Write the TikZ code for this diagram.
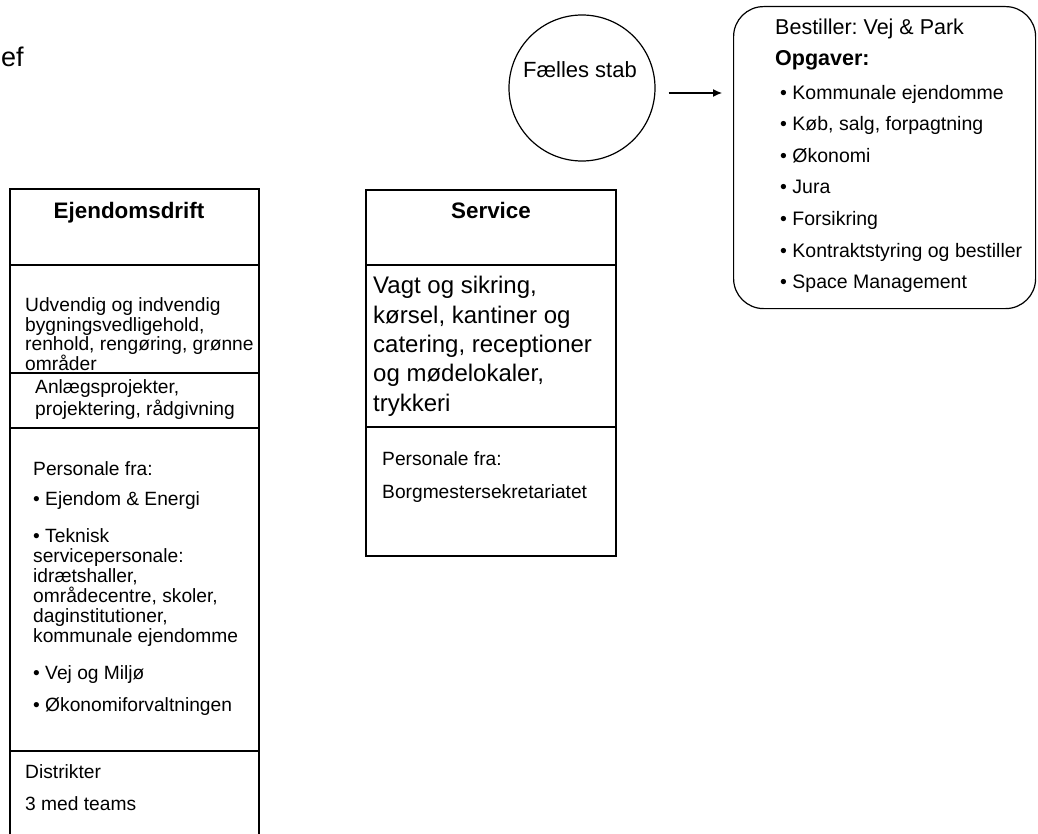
\documentclass[tikz,border=0pt]{standalone}
\usepackage{fontspec}
\setmainfont{Liberation Sans}
\usepackage{tikz}
\usetikzlibrary{shapes.geometric, arrows.meta, positioning}

\begin{document}
\frenchspacing
\begin{tikzpicture}[
    x=1pt, y=1pt,
    node distance=0pt,
    part/.style={rectangle, draw, line width=1.2pt, outer sep=0pt, inner sep=0pt, minimum width=249pt},
    srvpart/.style={part, minimum width=250pt},
    head/.style={anchor=base, inner sep=0pt, font=\fontsize{22.4}{26}\selectfont\bfseries},
    body/.style={anchor=base west, align=left, inner sep=0pt, font=\fontsize{19.2}{20}\selectfont},
    big/.style={body, font=\fontsize{24}{29.3}\selectfont},
    order/.style={body, font=\fontsize{19.5}{31.6}\selectfont},
    arrow/.style={-{Latex[length=9pt, width=8pt]}, line width=1.2pt}
]
    \clip (0,0) rectangle (1038,-834);

    \node[body, font=\fontsize{27}{30}\selectfont] (chef) at (1,-67) {ef};

    % Ejendomsdrift (text nodes sit on their last baseline)
    \node[part, minimum height=76pt, anchor=north west] (ejhead) at (10,-189) {};
    \node[part, minimum height=108pt, below=of ejhead] (ejtask) {};
    \node[part, minimum height=55pt, below=of ejtask] (ejproj) {};
    \node[part, minimum height=323pt, below=of ejproj] (ejstaff) {};
    \node[part, minimum height=110pt, below=of ejstaff] (ejdist) {};

    \node[head] (ejtitle) at (129,-219) {Ejendomsdrift};
    \node[body, font=\fontsize{19.2}{19.5}\selectfont] (ejtasktxt) at (25,-370)
        {Udvendig og indvendig\\bygningsvedligehold,\\renhold, rengøring, grønne\\områder};
    \node[body, font=\fontsize{19.2}{22}\selectfont] (ejprojtxt) at (35,-415)
        {Anlægsprojekter,\\projektering, rådgivning};
    \node[body] (ejstafftxt) at (33,-711)
        {Personale fra:\\[10pt]
         \textbullet\ Ejendom \& Energi\\[17pt]
         \textbullet\ Teknisk\\servicepersonale:\\idrætshaller,\\områdecentre, skoler,\\daginstitutioner,\\kommunale ejendomme\\[17pt]
         \textbullet\ Vej og Miljø\\[12pt]
         \textbullet\ Økonomiforvaltningen};
    \node[body] (ejdisttxt) at (25,-810) {Distrikter\\[12pt]3 med teams};

    % Service
    \node[srvpart, minimum height=75pt, anchor=north west] (srvhead) at (366,-190) {};
    \node[srvpart, minimum height=162pt, below=of srvhead] (srvtask) {};
    \node[srvpart, minimum height=129pt, below=of srvtask] (srvstaff) {};

    \node[head] (srvtitle) at (491,-219) {Service};
    \node[big] (srvtasktxt) at (373,-411)
        {Vagt og sikring,\\kørsel, kantiner og\\catering, receptioner\\og mødelokaler,\\trykkeri};
    \node[body] (srvstafftxt) at (382,-498) {Personale fra:\\[13pt]Borgmestersekretariatet};

    % Fælles stab og bestiller
    \node[circle, draw, line width=1.2pt, minimum size=146pt] (stab) at (582,-88) {};
    \node[head, font=\fontsize{22}{26}\selectfont] (stabtxt) at (580,-78) {Fælles stab};

    \node[draw, line width=1.2pt, rounded corners=30pt, minimum width=302pt, minimum height=302pt,
          anchor=north west] (orderbox) at (733,-6) {};
    \node[body, font=\fontsize{21.5}{31}\selectfont] (ordertitle) at (775,-66)
        {Bestiller: Vej \& Park\\{\bfseries Opgaver:}};
    \node[order] (ordertasks) at (780,-288.6)
        {\textbullet\ Kommunale ejendomme\\
         \textbullet\ Køb, salg, forpagtning\\
         \textbullet\ Økonomi\\
         \textbullet\ Jura\\
         \textbullet\ Forsikring\\
         \textbullet\ Kontraktstyring og bestiller\\
         \textbullet\ Space Management};

    \draw[arrow, shorten <=13pt, shorten >=11pt] ([yshift=-5pt]stab.east) -- ([yshift=-5pt]stab.east -| orderbox.west);
\end{tikzpicture}
\end{document}
